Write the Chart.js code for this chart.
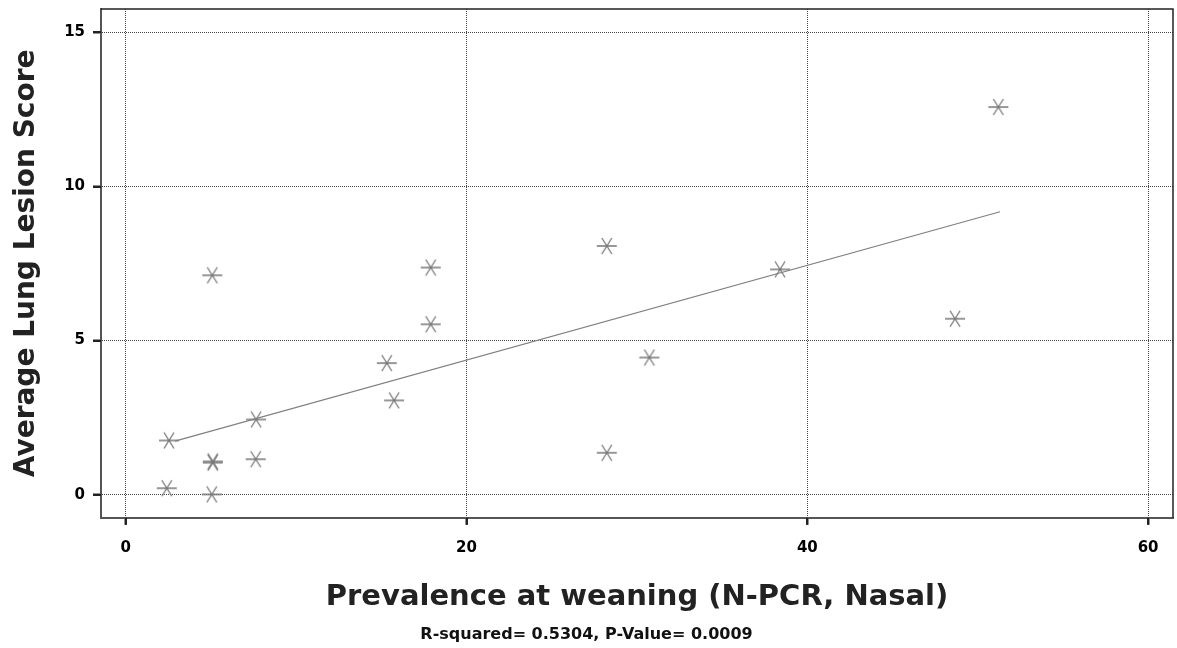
<!DOCTYPE html>
<html>
<head>
<meta charset="utf-8">
<script src="https://cdn.jsdelivr.net/npm/chart.js@4.4.1/dist/chart.umd.min.js"></script>
<style>
html,body{margin:0;padding:0;background:#fff;}
#wrap{width:1177px;height:648px;position:relative;}
</style>
</head>
<body>
<div id="wrap"><canvas id="c" width="1177" height="648"></canvas></div>
<script>
// ---- data ----
const prevalence = [2.54, 2.41, 5.11, 5.11, 5.05, 5.08, 7.63, 7.65, 15.32, 15.75, 17.9, 17.9, 28.23, 28.23, 30.73, 38.4, 48.67, 51.21];
const lesionScore = [1.76, 0.21, 1.04, 1.08, 0.01, 7.12, 1.15, 2.44, 4.27, 3.06, 7.37, 5.53, 8.07, 1.36, 4.45, 7.31, 5.71, 12.58];
const fitLineX = [2.89, 51.31];
const fitLineY = [1.74, 9.18];
const xTicks = [0, 20, 40, 60];
const yTicks = [0, 5, 10, 15];
const xTitle = 'Prevalence at weaning (N-PCR, Nasal)';
const yTitle = 'Average Lung Lesion Score';
const subtitleText = 'R-squared= 0.5304, P-Value= 0.0009';

// ---- marker symbol (asterisk: X + horizontal bar) ----
function makeMarker() {
  const c = document.createElement('canvas');
  c.width = 22; c.height = 18;
  const g = c.getContext('2d');
  g.strokeStyle = '#777';
  g.lineWidth = 1.3;
  g.beginPath();
  g.moveTo(1, 9); g.lineTo(21, 9);
  g.moveTo(6, 1); g.lineTo(16, 17);
  g.moveTo(16, 1); g.lineTo(6, 17);
  g.stroke();
  return c;
}
const marker = makeMarker();

// frame (top/right) and outward tick marks
const framePlugin = {
  id: 'frame',
  afterDraw(chart) {
    const {ctx, chartArea: a, scales} = chart;
    ctx.save();
    ctx.setLineDash([]);
    ctx.strokeStyle = '#222';
    ctx.lineWidth = 1.5;
    ctx.beginPath();
    ctx.moveTo(a.left, a.top); ctx.lineTo(a.right, a.top); ctx.lineTo(a.right, a.bottom);
    ctx.stroke();
    ctx.strokeStyle = '#222';
    ctx.lineWidth = 2;
    ctx.beginPath();
    scales.x.ticks.forEach(t => {
      const px = Math.round(scales.x.getPixelForValue(t.value));
      ctx.moveTo(px, a.bottom); ctx.lineTo(px, a.bottom + 7);
    });
    scales.y.ticks.forEach(t => {
      const py = Math.round(scales.y.getPixelForValue(t.value));
      ctx.moveTo(a.left - 8, py); ctx.lineTo(a.left, py);
    });
    ctx.stroke();
    ctx.restore();
  }
};

const FAM = 'DejaVu Sans, Verdana, sans-serif';
const tickFont = {family: FAM, size: 15, weight: 'bold'};

new Chart(document.getElementById('c'), {
  type: 'scatter',
  data: {
    datasets: [
      {
        label: 'fit',
        type: 'line',
        data: fitLineX.map((x, i) => ({x, y: fitLineY[i]})),
        borderColor: '#808080',
        borderWidth: 1.2,
        pointRadius: 0,
        fill: false
      },
      {
        label: 'data',
        data: prevalence.map((x, i) => ({x, y: lesionScore[i]})),
        pointStyle: marker,
        pointRadius: 10
      }
    ]
  },
  options: {
    responsive: false,
    animation: false,
    devicePixelRatio: 1,
    layout: {autoPadding: false, padding: {top: 9, right: 4, left: 0, bottom: 0}},
    plugins: {
      legend: {display: false},
      tooltip: {enabled: false},
      subtitle: {
        display: true,
        position: 'bottom',
        text: subtitleText,
        color: '#111',
        font: {family: FAM, size: 16, weight: 'bold'},
        padding: {top: 0, bottom: 4}
      }
    },
    scales: {
      x: {
        type: 'linear',
        min: -1.45,
        max: 61.46,
        afterBuildTicks: s => { s.ticks = xTicks.map(v => ({value: v})); },
        afterFit: s => { s.height = 107; s.paddingLeft = 0; s.paddingRight = 0; },
        ticks: {color: '#000', font: tickFont, padding: 14},
        grid: {color: '#444', lineWidth: 1, tickLength: 7, tickColor: '#222', tickWidth: 2},
        border: {display: true, color: '#555', width: 2, dash: [1, 1]},
        title: {
          display: true, text: xTitle, color: '#222',
          font: {family: FAM, size: 29, weight: 'bold'},
          padding: {top: 0, bottom: 10}
        }
      },
      y: {
        type: 'linear',
        min: -0.75,
        max: 15.76,
        afterBuildTicks: s => { s.ticks = yTicks.map(v => ({value: v})); },
        afterFit: s => { s.width = 101; s.paddingTop = 0; s.paddingBottom = 0; },
        ticks: {color: '#000', font: tickFont, padding: 8},
        grid: {color: '#444', lineWidth: 1, tickLength: 8, tickColor: '#222', tickWidth: 2},
        border: {display: true, color: '#555', width: 2, dash: [1, 1]},
        title: {
          display: true, text: yTitle, color: '#222',
          font: {family: FAM, size: 28, weight: 'bold'},
          padding: {top: 10, bottom: 0}
        }
      }
    }
  },
  plugins: [framePlugin]
});
</script>
</body>
</html>
